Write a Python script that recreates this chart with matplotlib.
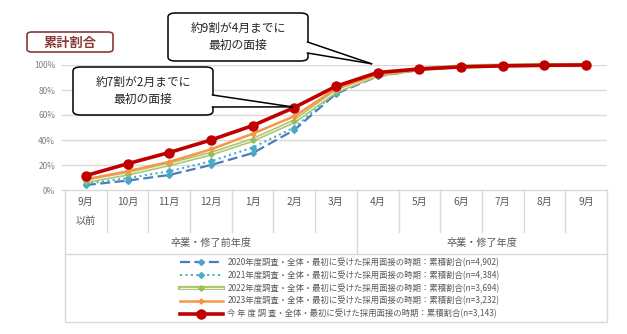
import matplotlib
matplotlib.use("Agg")
import matplotlib.pyplot as plt
import matplotlib.patheffects as pe
from matplotlib.patches import FancyBboxPatch, Polygon, Rectangle
from matplotlib.lines import Line2D
from matplotlib.legend_handler import HandlerTuple

plt.rcParams['font.family'] = ['Noto Sans CJK JP', 'DejaVu Sans']

# ---- data ----
months = ['9月', '10月', '11月', '12月', '1月', '2月', '3月',
          '4月', '5月', '6月', '7月', '8月', '9月']
month_sub = ['以前', '', '', '', '', '', '', '', '', '', '', '', '']
groups = ['卒業・修了前年度', '卒業・修了年度']
group_span = [(0, 6), (7, 12)]

y2020 = [4, 7.5, 12, 20, 29.5, 48, 77, 91, 96, 98.5, 99.5, 99.8, 100]
y2021 = [5, 9.5, 15, 23, 34, 50, 78, 91.5, 96.5, 98.7, 99.5, 99.8, 100]
y2022 = [7, 13, 20.5, 29, 40, 55, 79, 92, 96.8, 98.8, 99.6, 99.9, 100]
y2023 = [8.5, 15, 22.5, 32.5, 45, 59, 81, 92.5, 96.8, 98.8, 99.6, 99.9, 100]
ycur = [11.5, 21, 30, 40, 51.5, 66, 83, 94, 96.8, 98.5, 99.3, 99.8, 100]

labels = [
    '2020年度調査・全体・最初に受けた採用面接の時期：累積割合(n=4,902)',
    '2021年度調査・全体・最初に受けた採用面接の時期：累積割合(n=4,384)',
    '2022年度調査・全体・最初に受けた採用面接の時期：累積割合(n=3,694)',
    '2023年度調査・全体・最初に受けた採用面接の時期：累積割合(n=3,232)',
    '今 年 度 調 査・全体・最初に受けた採用面接の時期：累積割合(n=3,143)',
]
yticks = [0, 20, 40, 60, 80, 100]

W, H = 627, 334
fig = plt.figure(figsize=(W / 100, H / 100), dpi=100)


def fx(px):
    return px / W


def fy(py):
    return 1 - py / H


AX_L, AX_R, AX_T, AX_B = 65, 607, 65, 190
ax = fig.add_axes([fx(AX_L), fy(AX_B), fx(AX_R) - fx(AX_L), fy(AX_T) - fy(AX_B)])

x = list(range(len(months)))
grid_c = '#D9D9D9'
txt_c = '#595959'

h20, = ax.plot(x, y2020, color='#4A7EBB', lw=1.6, ls=(0, (4.5, 2)),
               marker='D', ms=3.0, mfc='#4BA3CC', mec='#4BA3CC', clip_on=False, zorder=3)
h21, = ax.plot(x, y2021, color='#4BACC6', lw=1.5, ls=(0, (1, 1.6)),
               marker='D', ms=3.0, mfc='#4BACC6', mec='#4BACC6', clip_on=False, zorder=3)
h22l, = ax.plot(x, y2022, color='#EAF1DD', lw=0.9, clip_on=False, zorder=3,
                path_effects=[pe.Stroke(linewidth=3.0, foreground='#A9C46C'), pe.Normal()])
h22m, = ax.plot(x, y2022, ls='none', marker='D', ms=2.8, mfc='#9BBB59',
                mec='#9BBB59', clip_on=False, zorder=3)
h23, = ax.plot(x, y2023, color='#F79646', lw=1.8, marker='P', ms=3.2,
               mfc='#F79646', mec='#F79646', clip_on=False, zorder=4)
hcur, = ax.plot(x, ycur, color='#C00000', lw=2.6, marker='o', ms=6.5,
                mfc='#C00000', mec='#C00000', clip_on=False, zorder=5)

ax.set_xlim(-0.5, len(months) - 0.5)
ax.set_ylim(0, 100)
ax.set_yticks(yticks)
ax.set_yticklabels([f'{v}%' for v in yticks], fontsize=6, color='#7F7F7F')
ax.tick_params(axis='y', length=3, color=grid_c, pad=4)
ax.set_xticks([])
for v in yticks[1:]:
    ax.axhline(v, color=grid_c, lw=1.0, zorder=1)
for s in ['top', 'right', 'left']:
    ax.spines[s].set_visible(False)
ax.spines['bottom'].set_color(grid_c)
ax.spines['bottom'].set_linewidth(1.0)

# ---- category table below the axes ----
ph = AX_B - AX_T
tr = ax.get_xaxis_transform()


def ay(py):
    return (AX_B - py) / ph


for k in range(1, len(months)):
    if k == group_span[1][0]:
        continue
    ax.plot([k - 0.5, k - 0.5], [0, ay(232)], transform=tr, color=grid_c,
            lw=1.0, clip_on=False)
for xb in [-0.5, group_span[1][0] - 0.5, len(months) - 0.5]:
    ax.plot([xb, xb], [0, ay(254)], transform=tr, color=grid_c,
            lw=1.0, clip_on=False)

for i, (m, s) in enumerate(zip(months, month_sub)):
    ax.text(i, ay(202), m, transform=tr, ha='center', va='center',
            fontsize=7.3, color=txt_c)
    if s:
        ax.text(i, ay(221), s, transform=tr, ha='center', va='center',
                fontsize=7.3, color=txt_c)
for g, (a, b) in zip(groups, group_span):
    ax.text((a + b) / 2, ay(243), g, transform=tr, ha='center', va='center',
            fontsize=7.3, color=txt_c)

# ---- legend ----
fig.patches.append(Rectangle((fx(AX_L), fy(322)), fx(AX_R) - fx(AX_L), fy(254) - fy(322),
                             transform=fig.transFigure, fill=False,
                             edgecolor=grid_c, lw=1.0))
leg = fig.legend([h20, h21, (h22l, h22m), h23, hcur], labels,
                 loc='upper left', bbox_to_anchor=(fx(174), fy(252)),
                 frameon=False, fontsize=6, handlelength=5.2, handletextpad=0.5,
                 labelspacing=0.42, borderpad=0.2, numpoints=1,
                 handler_map={tuple: HandlerTuple(ndivide=1)})
for t in leg.get_texts():
    t.set_color(txt_c)

# ---- title tag ----
fig.patches.append(FancyBboxPatch((fx(27), fy(52)), fx(113) - fx(27), fy(32) - fy(52),
                                  boxstyle='round,pad=0,rounding_size=0.008',
                                  transform=fig.transFigure, facecolor='white',
                                  edgecolor='#8B3A3A', lw=1.2))
fig.text(fx(70), fy(42.5), '累計割合', ha='center', va='center', fontsize=9.5,
         fontweight='bold', color='#8B3A3A')


# ---- callouts ----
def callout(box, text, base, tip_data):
    x0, y0, x1, y1 = box
    fig.patches.append(FancyBboxPatch((fx(x0), fy(y1)), fx(x1) - fx(x0), fy(y0) - fy(y1),
                                      boxstyle='round,pad=0,rounding_size=0.012',
                                      transform=fig.transFigure, facecolor='white',
                                      edgecolor='black', lw=1.1, zorder=6))
    tx, ty = ax.transData.transform(tip_data)
    tx, ty = fig.transFigure.inverted().transform((tx, ty))
    b0, b1 = base
    fig.patches.append(Polygon([(fx(x1 - 1.5), fy(b0)), (tx, ty), (fx(x1 - 1.5), fy(b1))],
                               closed=True, transform=fig.transFigure,
                               facecolor='white', edgecolor='none', zorder=7))
    for b in base:
        fig.lines.append(Line2D([fx(x1 - 0.5), tx], [fy(b), ty], transform=fig.transFigure,
                                color='black', lw=1.1, zorder=8))
    fig.text(fx((x0 + x1) / 2), fy((y0 + y1) / 2), text, ha='center', va='center',
             fontsize=8.5, color='#262626', linespacing=1.35, zorder=9)


callout((73, 67, 213, 115), '約7割が2月までに\n最初の面接', (95, 107), (5 - 0.05, ycur[5] + 0.5))
callout((168, 13, 308, 61), '約9割が4月までに\n最初の面接', (42, 53), (7 - 0.15, 101))

fig.savefig('out.png', dpi=100)
